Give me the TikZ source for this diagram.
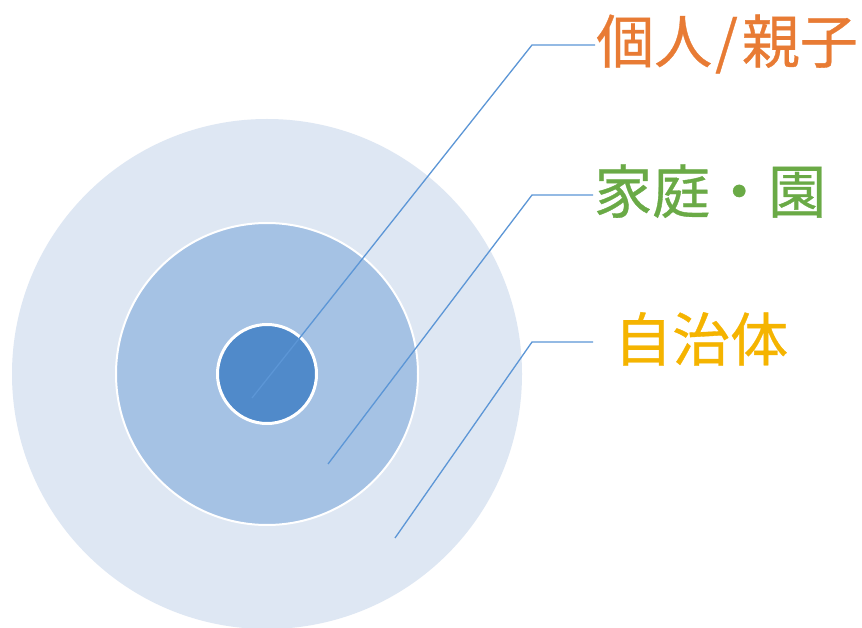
\documentclass[tikz,border=0pt]{standalone}
\usepackage{fontspec}
\newfontfamily\jpfont[FakeBold=0.6]{Noto Sans CJK JP}
\definecolor{outerblue}{RGB}{222,231,243}
\definecolor{middleblue}{RGB}{165,194,228}
\definecolor{innerblue}{RGB}{80,138,202}
\definecolor{leadblue}{RGB}{92,150,214}
\definecolor{tagorange}{RGB}{232,123,52}
\definecolor{taggreen}{RGB}{106,170,70}
\definecolor{taggold}{RGB}{245,180,0}
\begin{document}
\begin{tikzpicture}[x=1pt,y=-1pt]

        \def \cx {267}
        \def \cy {374}

        \tikzset{ringnode/.style={circle,inner sep=0pt,outer sep=0pt},
                 leadline/.style={draw=leadblue,line width=1.3pt},
                 tagtext/.style={anchor=base west,inner sep=0pt,font=\jpfont\fontsize{58}{64}\selectfont}}

        \useasboundingbox[fill=white] (0,0) rectangle (862,628);

        % Draw circles
        \node (outer) at (\cx,\cy) [ringnode,fill=outerblue,minimum size=510pt] {};
        \node (middle) at (\cx,\cy) [ringnode,fill=middleblue,draw=white,line width=2pt,minimum size=302pt] {};
        \node (inner) at (\cx,\cy) [ringnode,fill=innerblue,draw=white,line width=3pt,minimum size=99pt] {};

        % Draw labels
        \node (tag-1) at (596,63) [tagtext,text=tagorange] {個人\kern3pt/\kern4pt親子};
        \node (tag-2) at (594,213) [tagtext,text=taggreen] {家庭・園};
        \node (tag-3) at (614,361) [tagtext,text=taggold] {自治体};

        % Draw leaders
        \coordinate (foot-1) at (252,398);
        \coordinate (foot-2) at (328,464);
        \coordinate (foot-3) at (395,538);
        \coordinate (knee-1) at (532,45);
        \coordinate (knee-2) at (532,195);
        \coordinate (knee-3) at (532,342);
        \coordinate (end-1) at (595,45);
        \coordinate (end-2) at (593,195);
        \coordinate (end-3) at (593,342);
        \foreach \i in {1,2,3} {
            \draw[leadline] (foot-\i) -- (knee-\i) -- (end-\i);
        }

    \end{tikzpicture}
\end{document}
